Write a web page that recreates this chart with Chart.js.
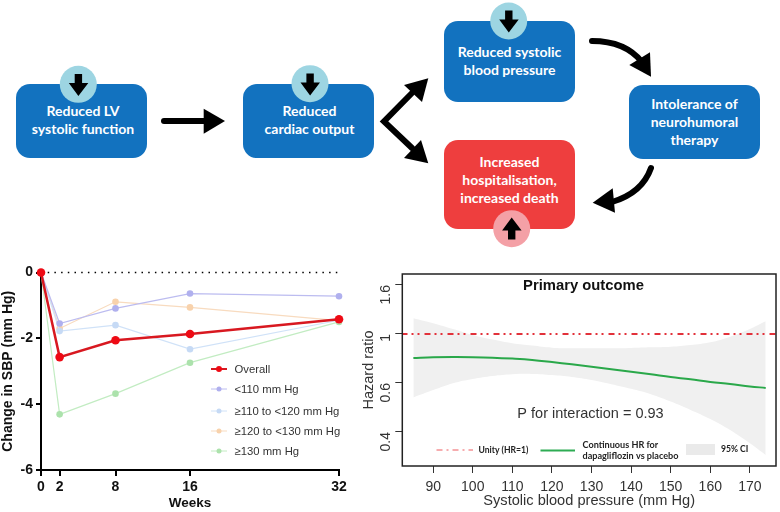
<!DOCTYPE html>
<html>
<head>
<meta charset="utf-8">
<script src="https://cdn.jsdelivr.net/npm/chart.js@4/dist/chart.umd.min.js"></script>
<style>
  html, body { margin: 0; padding: 0; background: #fff; }
  #page { position: relative; width: 780px; height: 512px; overflow: hidden; }
  canvas { position: absolute; }
  #arrows { position: absolute; left: 0; top: 0; }
  .box { position: absolute; border-radius: 14px; color: #fff; font: bold 14px/18px Lato, sans-serif; text-align: center; }
  .blue { background: #1272bf; }
  .red { background: #ee3e3e; }
  .box div { position: absolute; left: 0; right: 0; }
</style>
</head>
<body>
<div id="page">
  <div class="box blue" style="left:16px;top:84px;width:131px;height:74px"><div style="top:18px;left:1.5px;right:-1.5px">Reduced LV<br>systolic function</div></div>
  <div class="box blue" style="left:243px;top:84px;width:131px;height:74px"><div style="top:18px;left:1px;right:-1px">Reduced<br>cardiac output</div></div>
  <div class="box blue" style="left:444px;top:21px;width:131px;height:81px"><div style="top:22px">Reduced systolic<br>blood pressure</div></div>
  <div class="box blue" style="left:629px;top:85px;width:131px;height:74px"><div style="top:10px">Intolerance of<br>neurohumoral<br>therapy</div></div>
  <div class="box red" style="left:444px;top:140px;width:131px;height:89px"><div style="top:13px">Increased<br>hospitalisation,<br>increased death</div></div>

  <svg id="arrows" width="780" height="250">
    <circle cx="78.3" cy="84.3" r="18.5" fill="#9dd5e2"/>
    <circle cx="310" cy="83.7" r="18.5" fill="#9dd5e2"/>
    <circle cx="508.7" cy="21" r="18.5" fill="#9dd5e2"/>
    <circle cx="511.7" cy="228.7" r="18.5" fill="#f4a0a6"/>
    <path d="M74.7 74h7.4v9h6.2L78.4 96 68.8 83h5.9z"/>
    <path d="M306.4 73.5h7.4v9h6.2L310.1 95.5 300.5 82.5h5.9z"/>
    <path d="M505.1 10.5h7.4v9h6.2L508.8 32.5 499.2 19.5h5.9z"/>
    <path d="M508 239.5h7.4v-9h6.2L511.7 217.5 502.1 230.5h5.9z"/>

    <g fill="none" stroke="#000" stroke-width="6" stroke-linecap="round">
      <path d="M164 121H206"/>
      <path d="M412 93L384 121.5L412 148"/>
      <path d="M592 41C612 41 630 47 642 62"/>
      <path d="M651 168C645 185 632 196 612 202"/>
    </g>
    <path d="M203.7 108.7L225 121L203.7 133.7z"/>
    <path d="M428.3 78.3L404 85L422 102z"/>
    <path d="M428.3 163.3L404 158L421 140z"/>
    <path d="M651 76.7L629.3 65L650 52.3z"/>
    <path d="M592.7 202.7L612.7 188.3L615 212.7z"/>
  </svg>

  <canvas id="sbpChart" width="350" height="257" style="left:0;top:255px"></canvas>
  <canvas id="hrChart" width="430" height="257" style="left:350px;top:255px"></canvas>
</div>

<script>
// left panel: change in SBP by baseline group
var weeks = [0, 2, 8, 16, 32];
var sbpTicks = [-6, -4, -2, 0];
var overall = [0, -2.57, -2.06, -1.87, -1.42];
var under110 = [0, -1.55, -1.09, -0.64, -0.72];
var from110to120 = [0, -1.78, -1.60, -2.33, -1.45];
var from120to130 = [0, -1.70, -0.89, -1.06, -1.46];
var over130 = [0, -4.31, -3.68, -2.74, -1.50];
var baseline = [0, 0];
var baselineWeeks = [0, 32];
var sbpLegend = ["Overall", "<110 mm Hg", "\u2265110 to <120 mm Hg", "\u2265120 to <130 mm Hg", "\u2265130 mm Hg"];

// right panel: continuous hazard ratio
var sbpValues = [85, 90, 95, 100, 105, 110, 115, 120, 125, 130, 135, 140, 145, 150, 155, 160, 165, 170, 174];
var hrCurve = [0.804, 0.81, 0.812, 0.811, 0.807, 0.799, 0.788, 0.771, 0.752, 0.733, 0.712, 0.692, 0.671, 0.649, 0.63, 0.608, 0.596, 0.586, 0.58];
var hrUpper = [1.192, 1.131, 1.061, 0.992, 0.954, 0.924, 0.905, 0.888, 0.883, 0.883, 0.883, 0.886, 0.891, 0.896, 0.91, 0.932, 0.978, 1.061, 1.155];
var hrLower = [0.541, 0.571, 0.599, 0.633, 0.657, 0.671, 0.674, 0.665, 0.649, 0.624, 0.595, 0.576, 0.554, 0.524, 0.49, 0.453, 0.408, 0.354, 0.306];
var hrTicks = [0.4, 0.6, 1, 1.6];
var sbpAxisTicks = [90, 100, 110, 120, 130, 140, 150, 160, 170];
var unityX = [82, 177];
var unityY = [1, 1];

var lineColors = ["#d81820", "#bcbcf0", "#d0e2f8", "#f8dbbf", "#c2ecc2"];
var pointColors = ["#ee0a14", "#b0b0ee", "#c6daf5", "#f8d2ac", "#ace2ac"];
var sbpSeries = [overall, under110, from110to120, from120to130, over130];

// the printed HR axis has evenly spaced ticks that are not linear or log,
// so values are placed by where they fall between two ticks
function hrToAxis(hr) {
  var i = 0;
  while (i < hrTicks.length - 2 && hr > hrTicks[i + 1]) {
    i++;
  }
  return i + (hr - hrTicks[i]) / (hrTicks[i + 1] - hrTicks[i]);
}

function toPoints(xs, ys) {
  return xs.map(function (x, i) {
    return { x: x, y: ys[i] };
  });
}

function hrPoints(ys) {
  return toPoints(sbpValues, ys.map(hrToAxis));
}

function fixedSize(prop, size) {
  return function (scale) {
    scale[prop] = size;
  };
}

var sbpDatasets = sbpSeries.map(function (values, i) {
  return {
    label: sbpLegend[i],
    data: toPoints(weeks, values),
    borderColor: lineColors[i],
    backgroundColor: pointColors[i],
    borderWidth: i === 0 ? 2.5 : 1.2,
    pointRadius: i === 0 ? 4.3 : 3.3,
    pointBorderWidth: 0,
    clip: false,
  };
});
sbpDatasets.push({
  label: "zero",
  data: toPoints(baselineWeeks, baseline),
  borderColor: "#000",
  borderWidth: 1.5,
  borderDash: [1.5, 5.2],
  pointRadius: 0,
  clip: false,
});

var sbpLegendPlugin = {
  id: "sbpLegendPlugin",
  afterDraw: function (chart) {
    var ctx = chart.ctx;
    var rows = [114, 134, 156, 176, 196];
    ctx.save();
    ctx.font = "11.3px 'Liberation Sans'";
    ctx.textBaseline = "middle";
    sbpLegend.forEach(function (label, i) {
      ctx.strokeStyle = lineColors[i];
      ctx.lineWidth = i === 0 ? 2 : 1;
      ctx.beginPath();
      ctx.moveTo(211, rows[i]);
      ctx.lineTo(227, rows[i]);
      ctx.stroke();
      ctx.fillStyle = pointColors[i];
      ctx.beginPath();
      ctx.arc(219, rows[i], i === 0 ? 3 : 2.5, 0, Math.PI * 2);
      ctx.fill();
      ctx.fillStyle = "#333";
      ctx.fillText(label, 234.5, rows[i] + 0.5);
    });
    ctx.restore();
  },
};

new Chart(document.getElementById("sbpChart"), {
  type: "line",
  data: { datasets: sbpDatasets },
  options: {
    responsive: false,
    animation: false,
    layout: { padding: { top: 17.5, right: 11, bottom: 0, left: 0 } },
    plugins: { legend: { display: false }, tooltip: { enabled: false } },
    scales: {
      x: {
        type: "linear",
        min: 0,
        max: 32,
        afterBuildTicks: function (scale) {
          scale.ticks = weeks.map(function (w) { return { value: w }; });
        },
        afterFit: fixedSize("height", 42),
        border: { color: "#000", width: 2 },
        grid: { drawOnChartArea: false, color: "#000", lineWidth: 2, tickLength: 6 },
        ticks: { color: "#111", padding: 3, maxRotation: 0, font: { family: "Liberation Sans", size: 14, weight: "bold" } },
        title: { display: true, text: "Weeks", color: "#111", padding: { top: 0, bottom: 1 }, font: { family: "Liberation Sans", size: 13.5, weight: "bold" } },
      },
      y: {
        min: -6,
        max: 0,
        afterBuildTicks: function (scale) {
          scale.ticks = sbpTicks.map(function (v) { return { value: v }; });
        },
        afterFit: fixedSize("width", 41),
        border: { color: "#000", width: 2 },
        grid: { drawOnChartArea: false, color: "#000", lineWidth: 2, tickLength: 5 },
        ticks: { color: "#111", padding: 3, font: { family: "Liberation Sans", size: 14, weight: "bold" } },
        title: { display: true, text: "Change in SBP (mm Hg)", color: "#111", padding: { top: 0, bottom: 0 }, font: { family: "Liberation Sans", size: 14, weight: "bold" } },
      },
    },
  },
  plugins: [sbpLegendPlugin],
});

var unityDash = [6, 4, 2, 4, 2, 5];

var hrNotesPlugin = {
  id: "hrNotesPlugin",
  afterDraw: function (chart) {
    var ctx = chart.ctx;
    var area = chart.chartArea;
    ctx.save();
    ctx.strokeStyle = "#222";
    ctx.lineWidth = 1.5;
    ctx.strokeRect(area.left, area.top, area.right - area.left, area.bottom - area.top);

    ctx.textBaseline = "middle";
    ctx.textAlign = "center";
    ctx.fillStyle = "#111";
    ctx.font = "bold 14.8px 'Liberation Sans'";
    ctx.fillText("Primary outcome", 233.5, 31);
    ctx.fillStyle = "#333";
    ctx.font = "14.5px 'Liberation Sans'";
    ctx.fillText("P for interaction = 0.93", 240.5, 158.5);

    // legend row
    ctx.textAlign = "left";
    ctx.strokeStyle = "#ee5a5f";
    ctx.lineWidth = 1;
    ctx.setLineDash([6, 4, 2, 4]);
    ctx.beginPath();
    ctx.moveTo(86.5, 195);
    ctx.lineTo(123, 195);
    ctx.stroke();
    ctx.setLineDash([]);
    ctx.strokeStyle = "#2eac54";
    ctx.lineWidth = 2;
    ctx.beginPath();
    ctx.moveTo(190.5, 195.5);
    ctx.lineTo(225, 195.5);
    ctx.stroke();
    ctx.fillStyle = "#eaeaea";
    ctx.fillRect(336, 189, 29, 11);
    ctx.fillStyle = "#222";
    ctx.font = "bold 8.6px Lato";
    ctx.fillText("Unity (HR=1)", 128.5, 195);
    ctx.fillText("95% CI", 371, 194);
    ctx.font = "bold 9.1px Lato";
    ctx.fillText("Continuous HR for", 232.5, 190);
    ctx.fillText("dapagliflozin vs placebo", 232.5, 201);
    ctx.restore();
  },
};

new Chart(document.getElementById("hrChart"), {
  type: "line",
  data: {
    datasets: [
      {
        label: "Unity (HR=1)",
        data: toPoints(unityX, unityY.map(hrToAxis)),
        borderColor: "#e2313a",
        borderWidth: 2,
        borderDash: unityDash,
        pointRadius: 0,
      },
      {
        label: "Continuous HR",
        data: hrPoints(hrCurve),
        borderColor: "#2aa84a",
        borderWidth: 2,
        pointRadius: 0,
        tension: 0.4,
      },
      {
        label: "95% CI upper",
        data: hrPoints(hrUpper),
        borderWidth: 0,
        pointRadius: 0,
        tension: 0.4,
        backgroundColor: "#f0f0f0",
        fill: "+1",
      },
      {
        label: "95% CI lower",
        data: hrPoints(hrLower),
        borderWidth: 0,
        pointRadius: 0,
        tension: 0.4,
      },
    ],
  },
  options: {
    responsive: false,
    animation: false,
    layout: { padding: { top: 19, right: 4, bottom: 0, left: 0 } },
    plugins: { legend: { display: false }, tooltip: { enabled: false } },
    scales: {
      x: {
        type: "linear",
        min: 82.2,
        max: 176.6,
        afterBuildTicks: function (scale) {
          scale.ticks = sbpAxisTicks.map(function (v) { return { value: v }; });
        },
        afterFit: fixedSize("height", 46),
        border: { display: false },
        grid: { drawOnChartArea: false, color: "#333", lineWidth: 1, tickLength: 7 },
        ticks: { color: "#333", padding: 5.5, maxRotation: 0, font: { family: "Liberation Sans", size: 14 } },
        title: { display: true, text: "Systolic blood pressure (mm Hg)", color: "#333", padding: { top: 0, bottom: 2.5 }, font: { family: "Liberation Sans", size: 14.6 } },
      },
      y: {
        min: -0.694,
        max: 3.224,
        afterBuildTicks: function (scale) {
          scale.ticks = hrTicks.map(function (v, i) { return { value: i }; });
        },
        afterFit: fixedSize("width", 52.3),
        border: { display: false },
        grid: { drawOnChartArea: false, color: "#333", lineWidth: 1, tickLength: 7 },
        ticks: {
          color: "#333",
          padding: 9,
          minRotation: 90,
          maxRotation: 90,
          font: { family: "Liberation Sans", size: 14 },
          callback: function (value) {
            return String(hrTicks[value]);
          },
        },
        title: { display: true, text: "Hazard ratio", color: "#333", padding: { top: 10.5, bottom: 0 }, font: { family: "Liberation Sans", size: 14.5 } },
      },
    },
  },
  plugins: [hrNotesPlugin],
});
</script>
</body>
</html>
